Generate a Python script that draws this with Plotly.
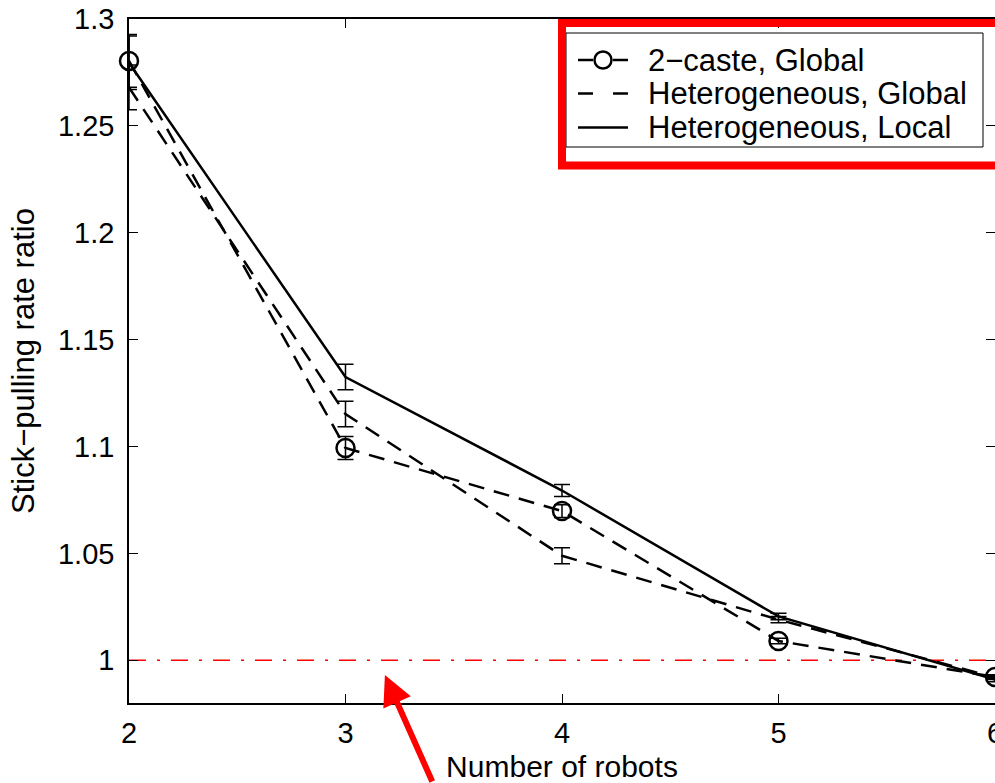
import plotly.graph_objects as go

# Team sizes
robots = [2, 3, 4, 5, 6]

# Stick-pulling rate ratio per configuration (mean and error half-width)
caste_global = [1.2804, 1.0993, 1.0698, 1.0090, 0.9922]
caste_global_err = [0.0123, 0.0054, 0.0030, 0.0013, 0.0010]

hetero_global = [1.2680, 1.1152, 1.0489, 1.0190, 0.9920]
hetero_global_err = [0.0105, 0.0060, 0.0037, 0.0015, 0.0010]

hetero_local = [1.2795, 1.1325, 1.0794, 1.0205, 0.9910]
hetero_local_err = [0.0125, 0.0060, 0.0028, 0.0015, 0.0010]

# Reference ratio of 1 (no improvement)
baseline_x = [2, 6]
baseline_y = [1, 1]

y_ticks = [1, 1.05, 1.1, 1.15, 1.2, 1.25, 1.3]
y_tick_text = ["1", "1.05", "1.1", "1.15", "1.2", "1.25", "1.3"]
x_ticks = [2, 3, 4, 5, 6]

legend_labels = ["2\u2212caste, Global", "Heterogeneous, Global", "Heterogeneous, Local"]

FONT = "Liberation Sans, Arial, Helvetica, sans-serif"
DASH = "16px,10px"

# Figure geometry (pixels) used to place the legend box
W, H = 995, 783
ML, MR, MT, MB = 129, 0, 19, 80
PW, PH = W - ML - MR, H - MT - MB


def px(xpix):
    return (xpix - ML) / PW


def py(ypix):
    return (H - MB - ypix) / PH


fig = go.Figure()

fig.add_trace(go.Scatter(
    x=baseline_x, y=baseline_y, mode="lines", showlegend=False,
    line=dict(color="red", width=1.3, dash="17px,11px,3px,11px"),
    hoverinfo="skip",
))

fig.add_trace(go.Scatter(
    x=robots, y=caste_global, mode="lines+markers",
    name=legend_labels[0], showlegend=False,
    line=dict(color="black", width=2.5, dash=DASH),
    marker=dict(symbol="circle-open", size=18, color="black",
                line=dict(width=2.5, color="black")),
    error_y=dict(type="data", array=caste_global_err, visible=True,
                 color="black", thickness=1.5, width=8),
    cliponaxis=False,
))

fig.add_trace(go.Scatter(
    x=robots, y=hetero_global, mode="lines",
    name=legend_labels[1], showlegend=False,
    line=dict(color="black", width=2.5, dash=DASH),
    error_y=dict(type="data", array=hetero_global_err, visible=True,
                 color="black", thickness=1.5, width=8),
))

fig.add_trace(go.Scatter(
    x=robots, y=hetero_local, mode="lines",
    name=legend_labels[2], showlegend=False,
    line=dict(color="black", width=2.5),
    error_y=dict(type="data", array=hetero_local_err, visible=True,
                 color="black", thickness=1.5, width=8),
))

axis_common = dict(
    showline=True, linecolor="black", linewidth=1.5, mirror="ticks",
    ticks="inside", ticklen=9, tickwidth=1.2, tickcolor="black",
    showgrid=False, zeroline=False, ticklabeloverflow="allow",
    automargin=False,
    tickfont=dict(family=FONT, size=29, color="black"),
)

fig.update_layout(
    width=W, height=H,
    margin=dict(l=ML, r=MR, t=MT, b=MB, autoexpand=False),
    paper_bgcolor="white", plot_bgcolor="white",
    font=dict(family=FONT, color="black"),
    xaxis=dict(
        range=[2, 6], tickvals=x_ticks, ticklabelstandoff=3,
        title=dict(text="Number of robots", font=dict(size=30), standoff=10),
        **axis_common,
    ),
    yaxis=dict(
        range=[0.98, 1.3], tickvals=y_ticks, ticktext=y_tick_text,
        ticklabelstandoff=7,
        title=dict(text="Stick\u2212pulling rate ratio", font=dict(size=31), standoff=14),
        **axis_common,
    ),
    showlegend=False,
)

# Legend box
fig.add_shape(
    type="rect", xref="paper", yref="paper",
    x0=px(566), x1=px(983), y0=py(147), y1=py(33),
    line=dict(color="black", width=1), fillcolor="white", layer="above",
)

rows = [60, 93.5, 127.5]
seg_l, seg_r = (578, 593), (613, 628)
line_style = dict(color="black", width=2.5)

# Row 1: dashed line with open circle
for a, b in (seg_l, seg_r):
    fig.add_shape(type="line", xref="paper", yref="paper",
                  x0=px(a), x1=px(b), y0=py(rows[0]), y1=py(rows[0]),
                  line=line_style, layer="above")
fig.add_shape(type="circle", xref="paper", yref="paper",
              xsizemode="pixel", ysizemode="pixel",
              xanchor=px(603), yanchor=py(rows[0]),
              x0=-8.5, x1=8.5, y0=-8.5, y1=8.5,
              line=line_style, fillcolor="rgba(0,0,0,0)", layer="above")
# Row 2: dashed line
for a, b in (seg_l, seg_r):
    fig.add_shape(type="line", xref="paper", yref="paper",
                  x0=px(a), x1=px(b), y0=py(rows[1]), y1=py(rows[1]),
                  line=line_style, layer="above")
# Row 3: solid line
fig.add_shape(type="line", xref="paper", yref="paper",
              x0=px(578), x1=px(628), y0=py(rows[2]), y1=py(rows[2]),
              line=line_style, layer="above")

for label, row in zip(legend_labels, rows):
    fig.add_annotation(
        x=px(646), y=py(row), xref="paper", yref="paper",
        text=label, showarrow=False, xanchor="left", yanchor="middle",
        font=dict(family=FONT, size=31, color="black"),
    )

# Highlight around the legend
fig.add_shape(
    type="rect", xref="paper", yref="paper",
    x0=px(562), x1=1.05, y0=py(165.5), y1=py(23),
    line=dict(color="red", width=8), fillcolor="rgba(0,0,0,0)", layer="above",
)

# Arrow pointing at the ratio = 1 line
fig.add_annotation(
    x=3.182, y=0.9931, xref="x", yref="y", text="",
    showarrow=True, arrowhead=2, arrowsize=1, arrowwidth=6,
    arrowcolor="red", ax=48, ay=118, standoff=0,
)

fig.write_html("out.html")
